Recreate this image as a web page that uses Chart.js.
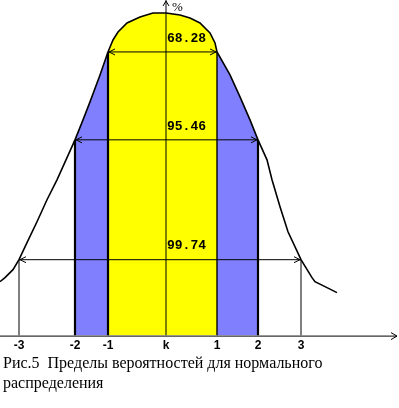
<!DOCTYPE html>
<html>
<head>
<meta charset="utf-8">
<script src="https://cdn.jsdelivr.net/npm/chart.js@4"></script>
<style>
  html, body { margin: 0; padding: 0; background: #fff; }
  #wrap { position: relative; width: 399px; height: 408px; }
  #box { position: absolute; left: 0; top: 0; width: 399px; height: 356px; }
  #caption {
    position: absolute; left: 3px; top: 353px; width: 396px;
    font: 16px "Liberation Serif", serif; line-height: 20px; color: #000;
  }
</style>
</head>
<body>
<div id="wrap">
  <div id="box"><canvas id="chart"></canvas></div>
  <div id="caption">Рис.5&nbsp; Пределы вероятностей для нормального распределения</div>
</div>
<script>
/* ------------------------------
   Data (x in drawing units, height above the axis)
   ------------------------------ */
const curveX = [0, 5, 13, 19, 27, 37, 47, 57, 66, 75, 83, 90, 100, 108, 113, 118, 127, 140, 153, 166,
  180, 190, 200, 210, 215, 217, 230, 240, 250, 258, 267, 272, 280, 288, 301, 312, 315, 327, 337];
const curveH = [54, 58, 66, 76, 93, 114, 136, 156, 176, 196, 216, 234, 261, 284, 296, 304, 313, 319, 323, 323,
  321, 318, 313, 303, 293, 284, 261, 239, 216, 196, 176, 156, 129, 104, 76, 58, 54, 48, 43];

const tickPos    = [19, 75, 108, 166, 217, 258, 301];
const tickLabels = ["-3", "-2", "-1", "k", "1", "2", "3"];

const bandLabels = ["68.28", "95.46", "99.74"];
const bandFrom   = [2, 1, 0];   // index into tickPos
const bandTo     = [4, 5, 6];
const bandLevel  = [284, 196, 76];

const Y_MAX = 336;
const X_MAX = 399;

/* Styles */
const YELLOW = "#ffff00";
const BLUE = "#8080ff";
const tickLineWidth = [1, 2.2, 2.2, 1, 1.4, 2.2, 1];

/* ------------------------------
   Helpers
   ------------------------------ */
const heightAt = (x) => {
  const i = curveX.indexOf(x);
  return i >= 0 ? curveH[i] : Y_MAX;
};
const curveBetween = (a, b) =>
  curveX.map((x, i) => ({ x, y: curveH[i] })).filter(p => p.x >= a && p.x <= b);

const plain = { pointRadius: 0, pointHoverRadius: 0, tension: 0 };

// lower "order" is drawn on top
const datasets = [];
// fills
datasets.push({ ...plain, order: 10, data: curveBetween(tickPos[2], tickPos[4]), fill: "origin", backgroundColor: YELLOW, borderWidth: 0 });
datasets.push({ ...plain, order: 10, data: curveBetween(tickPos[1], tickPos[2]), fill: "origin", backgroundColor: BLUE, borderWidth: 0 });
datasets.push({ ...plain, order: 10, data: curveBetween(tickPos[4], tickPos[5]), fill: "origin", backgroundColor: BLUE, borderWidth: 0 });
// verticals
tickPos.forEach((x, i) => {
  const top = tickLabels[i] === "k" ? Y_MAX : heightAt(x);
  datasets.push({ ...plain, order: 2, data: [{ x, y: 0 }, { x, y: top }], borderColor: "#000", borderWidth: tickLineWidth[i], fill: false });
});
// band arrows
bandLabels.forEach((_, i) => {
  datasets.push({ ...plain, order: 2, data: [{ x: tickPos[bandFrom[i]], y: bandLevel[i] }, { x: tickPos[bandTo[i]], y: bandLevel[i] }],
    borderColor: "#000", borderWidth: 1, fill: false });
});
// curve
datasets.push({ ...plain, order: 1, data: curveX.map((x, i) => ({ x, y: curveH[i] })), borderColor: "#000", borderWidth: 1.6, fill: false });

/* ------------------------------
   Decorations: arrowheads, axis, labels
   ------------------------------ */
const decor = {
  id: "decor",
  afterDatasetsDraw(chart) {
    const { ctx, scales: { x: sx, y: sy } } = chart;
    ctx.save();
    ctx.strokeStyle = "#000";
    ctx.fillStyle = "#000";
    ctx.lineWidth = 1;

    const line = (pts) => {
      ctx.beginPath();
      ctx.moveTo(pts[0][0], pts[0][1]);
      pts.slice(1).forEach(p => ctx.lineTo(p[0], p[1]));
      ctx.stroke();
    };

    // x axis with arrow
    const y0 = sy.getPixelForValue(0);
    line([[sx.getPixelForValue(0), y0 + 0.5], [sx.getPixelForValue(397), y0 + 0.5]]);
    const ax = sx.getPixelForValue(397);
    line([[ax - 6, y0 - 3], [ax, y0 + 0.5], [ax - 6, y0 + 4]]);

    // up arrow on k line + %
    const kx = sx.getPixelForValue(tickPos[3]);
    line([[kx - 3, 6], [kx, 1], [kx + 3, 6]]);
    ctx.font = "13px 'Liberation Serif', serif";
    ctx.textAlign = "left";
    ctx.textBaseline = "top";
    ctx.fillText("%", kx + 6, 1);

    // band arrows + labels
    ctx.font = "bold 13px 'Liberation Mono', monospace";
    ctx.textBaseline = "bottom";
    bandLabels.forEach((lab, i) => {
      const yy = sy.getPixelForValue(bandLevel[i]);
      const xl = sx.getPixelForValue(tickPos[bandFrom[i]]) + 1;
      const xr = sx.getPixelForValue(tickPos[bandTo[i]]) - 1;
      line([[xl + 6, yy - 3], [xl, yy], [xl + 6, yy + 3]]);
      line([[xr - 6, yy - 3], [xr, yy], [xr - 6, yy + 3]]);
      ctx.fillText(lab, kx + 1, yy - 7);
    });
    ctx.restore();
  }
};

new Chart(document.getElementById("chart"), {
  type: "line",
  data: { datasets },
  options: {
    responsive: true,
    maintainAspectRatio: false,
    animation: false,
    events: [],
    layout: { padding: 0 },
    plugins: { legend: { display: false }, tooltip: { enabled: false } },
    scales: {
      x: {
        type: "linear", min: 0, max: X_MAX,
        grid: { display: false, drawTicks: false },
        border: { display: false },
        afterBuildTicks: (scale) => { scale.ticks = tickPos.map(v => ({ value: v })); },
        ticks: {
          padding: 3, color: "#000", maxRotation: 0, autoSkip: false,
          font: { family: "'Liberation Sans', Arial, sans-serif", size: 12, weight: "bold" },
          callback: (v, i) => tickLabels[i]
        }
      },
      y: { display: false, min: 0, max: Y_MAX }
    }
  },
  plugins: [decor]
});
</script>
</body>
</html>
